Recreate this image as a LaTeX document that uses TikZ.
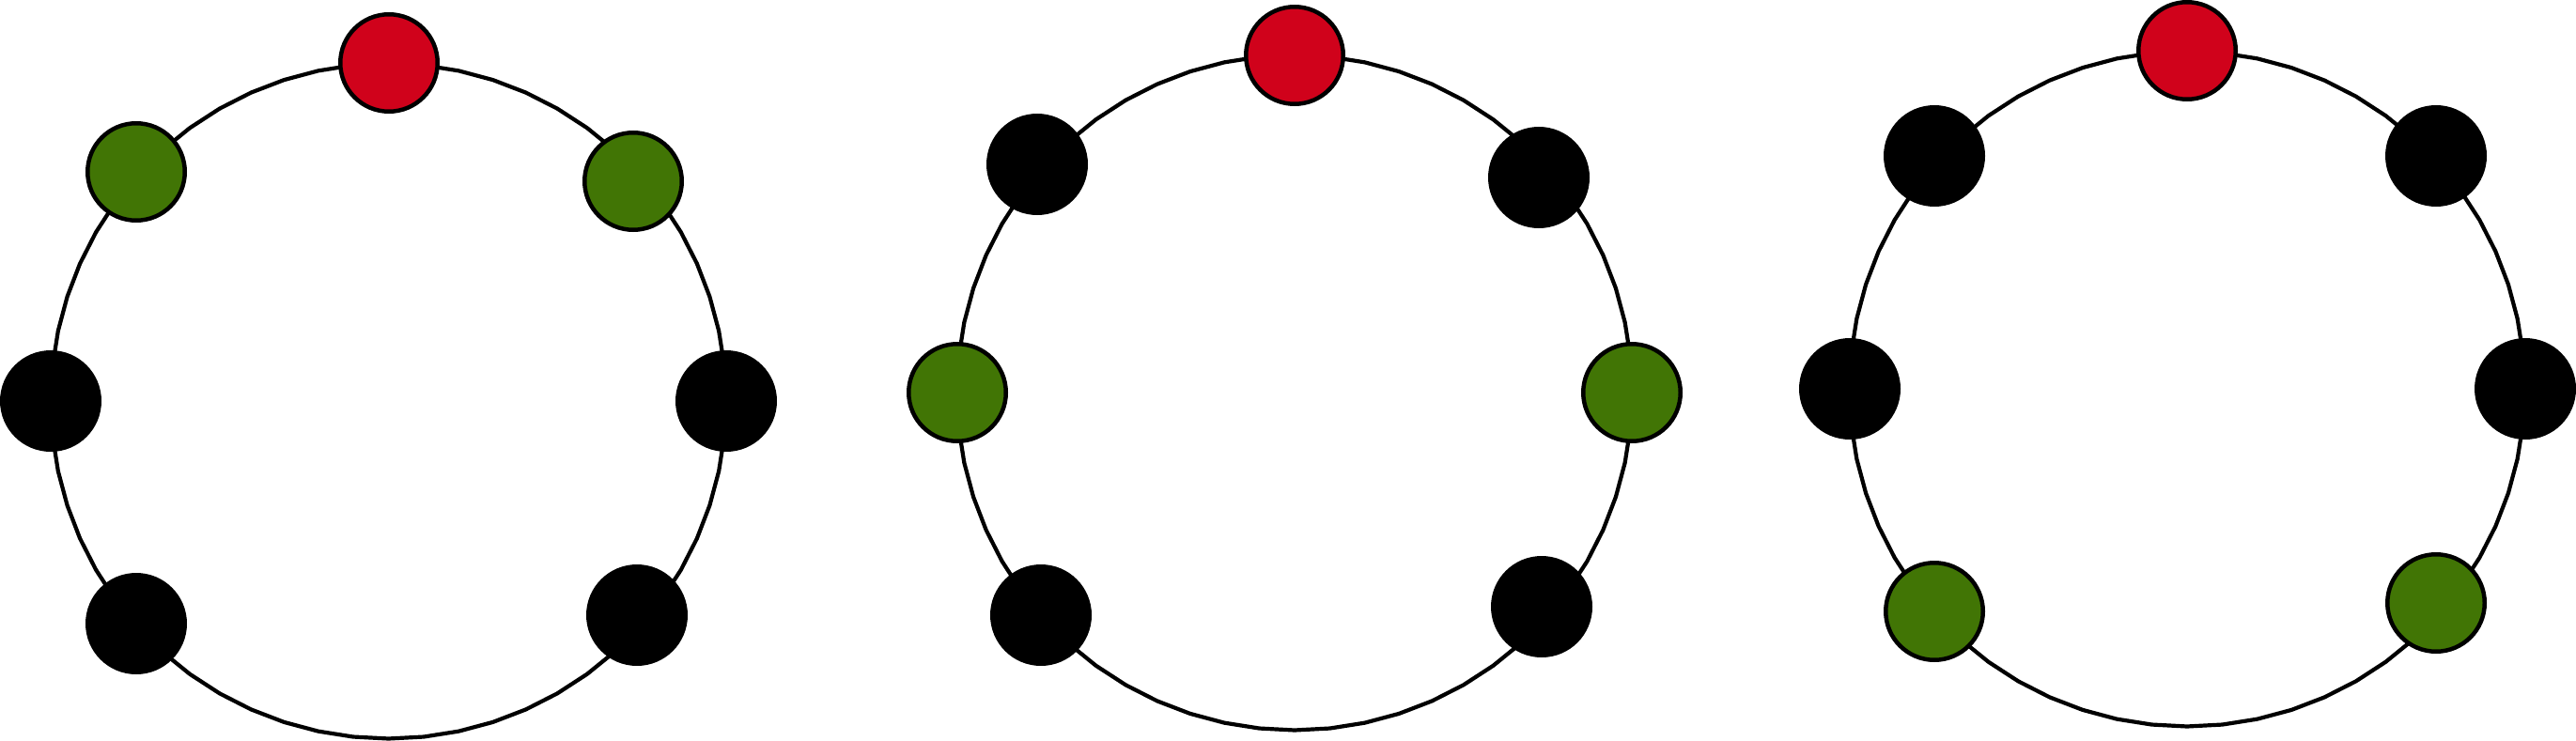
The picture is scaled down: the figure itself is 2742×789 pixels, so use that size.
\documentclass[tikz,border=0pt]{standalone}
\usepackage{tikz}
\definecolor{sred}{HTML}{D0021B}
\definecolor{sgreen}{HTML}{417505}
\begin{document}
\begin{tikzpicture}[x=1pt,y=-1pt,
  ring/.style={draw=black,line width=4.2pt,line join=round},
  vtx/.style={circle,draw=black,line width=4.5pt,minimum size=103.5pt,inner sep=0pt},
  redv/.style={vtx,fill=sred},
  greenv/.style={vtx,fill=sgreen},
  blackv/.style={vtx,fill=black}]
\useasboundingbox (0,0) rectangle (2742,789);
% ring 1
\draw[ring] plot[samples=61,domain=90:450] ({413.5+359.5*cos(\x)},{427-359.5*sin(\x)}) -- cycle;
\node[redv]   (a1) at (414,67) {};
\node[greenv] (a2) at (674,193) {};
\node[blackv] (a3) at (773,427) {};
\node[blackv] (a4) at (678,655) {};
\node[blackv] (a5) at (145,664) {};
\node[blackv] (a6) at (54,427) {};
\node[greenv] (a7) at (145,183) {};
% ring 2
\draw[ring] plot[samples=61,domain=90:450] ({1378+359.5*cos(\x)},{418-359.5*sin(\x)}) -- cycle;
\node[redv]   (b1) at (1378,59) {};
\node[blackv] (b2) at (1638,189) {};
\node[greenv] (b3) at (1737,418) {};
\node[blackv] (b4) at (1641,646) {};
\node[blackv] (b5) at (1108,655) {};
\node[greenv] (b6) at (1019,418) {};
\node[blackv] (b7) at (1104,175) {};
% ring 3
\draw[ring] plot[samples=61,domain=90:450] ({2328+359.5*cos(\x)},{414-359.5*sin(\x)}) -- cycle;
\node[redv]   (c1) at (2328,54) {};
\node[blackv] (c2) at (2593,166) {};
\node[blackv] (c3) at (2688,414) {};
\node[greenv] (c4) at (2593,642) {};
\node[greenv] (c5) at (2059,651) {};
\node[blackv] (c6) at (1969,414) {};
\node[blackv] (c7) at (2059,166) {};
\end{tikzpicture}
\end{document}
